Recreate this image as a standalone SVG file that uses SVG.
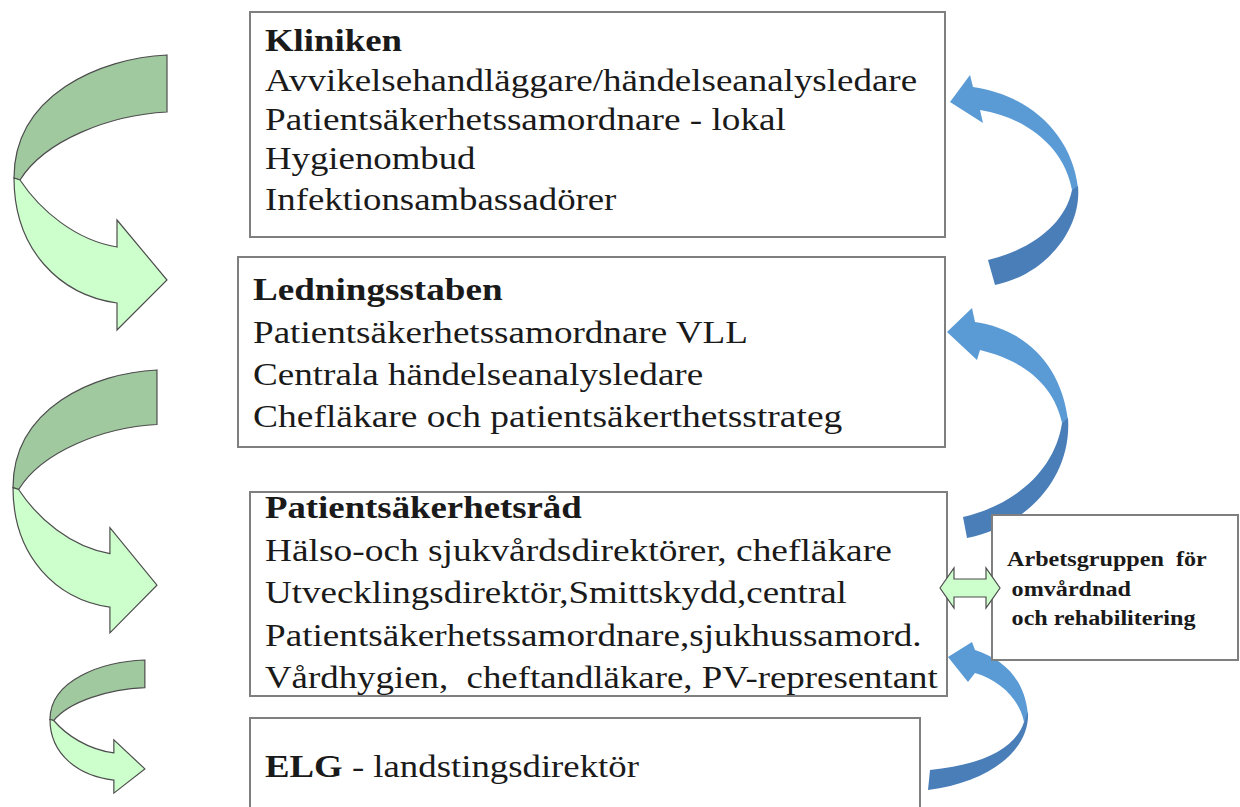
<svg xmlns="http://www.w3.org/2000/svg" xmlns:xlink="http://www.w3.org/1999/xlink" width="1240" height="807" viewBox="0 0 1240 807">
<style>
.box{fill:#fff;stroke:#7f7f7f;stroke-width:2}
.t{font-family:"Liberation Serif","Times New Roman",serif;font-size:32px;fill:#1a1a1a}
.b{font-weight:bold}
.s{font-family:"Liberation Serif","Times New Roman",serif;font-size:21px;font-weight:bold;fill:#1a1a1a}
.gd{fill:#a0c9a0;stroke:#4d4d4d;stroke-width:1.2;vector-effect:non-scaling-stroke}
.gl{fill:#ccffcc;stroke:#4d4d4d;stroke-width:1.2;vector-effect:non-scaling-stroke}
.bl{fill:#5b9bd5}
.bd{fill:#4a7eb9}
</style>
<defs>
<g id="garrow">
<path class="gd" d="M153,0 C86,3 0,40 0,123 L6,125 C31,85 96,60 153,57 Z"/>
<path class="gl" d="M6,125 C26,155 61,185 103,192 L103,165 L153,225 L103,275 L103,248 C46,240 0,195 0,123 Z"/>
</g>
</defs>

<g id="connectors">
<use xlink:href="#garrow" transform="translate(14,55)"/>
<use xlink:href="#garrow" transform="translate(13,370) scale(0.941,0.956)"/>
<use xlink:href="#garrow" transform="translate(50,660) scale(0.62,0.484)"/>

<g id="blue1">
<path class="bl" d="M950,102 L970,75 L973,87 C1030,95 1072,135 1078,188 L1072,190 C1065,150 1030,118 980,110 L983,123 Z"/>
<path class="bd" d="M1078,186 C1082,230 1045,275 995,285 L988,260 C1030,250 1065,225 1072,190 Z"/>
</g>
<g id="blue2">
<path class="bl" d="M947,332 L972,308 L975,322 C1030,330 1062,370 1068,420 L1062,423 C1055,390 1030,362 980,350 L977,360 Z"/>
<path class="bd" d="M1068,418 C1072,475 1030,525 967,538 L963,517 C1015,505 1055,470 1062,423 Z"/>
</g>
<g id="blue3">
<path class="bl" d="M948,657 L972,642 L975,650 C1005,660 1025,680 1028,715 L1024,722 C1020,700 1000,680 975,673 L968,682 Z"/>
<path class="bd" d="M1028,712 C1030,750 990,782 928,790 L930,770 C980,765 1015,750 1024,722 Z"/>
</g>
</g>

<g id="kliniken">
<rect class="box" x="250" y="12" width="695" height="225"/>
<g transform="translate(265,0) scale(1.15,1)">
<text class="t b" x="0" y="51">Kliniken</text>
<text class="t" x="0" y="91" textLength="567" lengthAdjust="spacingAndGlyphs">Avvikelsehandläggare/händelseanalysledare</text>
<text class="t" x="0" y="130" textLength="453" lengthAdjust="spacingAndGlyphs">Patientsäkerhetssamordnare - lokal</text>
<text class="t" x="0" y="169">Hygienombud</text>
<text class="t" x="0" y="210">Infektionsambassadörer</text>
</g>
</g>

<g id="ledningsstaben">
<rect class="box" x="238" y="257" width="707" height="190"/>
<g transform="translate(253,0) scale(1.16,1)">
<text class="t b" x="0" y="300">Ledningsstaben</text>
<text class="t" x="0" y="343">Patientsäkerhetssamordnare VLL</text>
<text class="t" x="0" y="385">Centrala händelseanalysledare</text>
<text class="t" x="0" y="427" textLength="508" lengthAdjust="spacingAndGlyphs">Chefläkare och patientsäkerthetsstrateg</text>
</g>
</g>

<g id="patientsakerhetsrad">
<rect class="box" x="250" y="492" width="697" height="204"/>
<g transform="translate(265,0) scale(1.15,1)">
<text class="t b" x="0" y="518">Patientsäkerhetsråd</text>
<text class="t" x="0" y="561" textLength="545" lengthAdjust="spacingAndGlyphs">Hälso-och sjukvårdsdirektörer, chefläkare</text>
<text class="t" x="0" y="603" textLength="506" lengthAdjust="spacingAndGlyphs">Utvecklingsdirektör,Smittskydd,central</text>
<text class="t" x="0" y="646" textLength="571" lengthAdjust="spacingAndGlyphs">Patientsäkerhetssamordnare,sjukhussamord.</text>
<text class="t" x="0" y="688" xml:space="preserve" textLength="585" lengthAdjust="spacingAndGlyphs">Vårdhygien,  cheftandläkare, PV-representant</text>
</g>
</g>

<g id="elg">
<rect class="box" x="250" y="718" width="670" height="110"/>
<g transform="translate(265,0) scale(1.15,1)">
<text class="t" x="0" y="777"><tspan class="b">ELG</tspan> - landstingsdirektör</text>
</g>
</g>

<g id="arbetsgruppen">
<rect class="box" x="992" y="515" width="246" height="145"/>
<g transform="translate(1007,0) scale(1.15,1)">
<text class="s" x="0" y="566" xml:space="preserve">Arbetsgruppen  för</text>
<text class="s" x="4" y="596">omvårdnad</text>
<text class="s" x="4" y="625">och rehabilitering</text>
</g>
</g>

<g id="dblarrow">
<path class="gl" d="M940,588 L954,568 L954,579 L986,579 L986,568 L1000,588 L986,608 L986,597 L954,597 L954,608 Z"/>
</g>
</svg>
